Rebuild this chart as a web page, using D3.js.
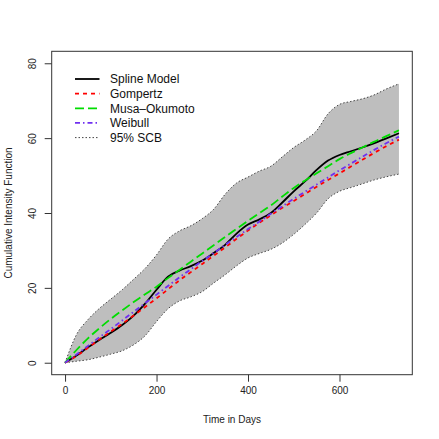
<!DOCTYPE html>
<html>
<head>
<meta charset="utf-8">
<script src="https://cdn.jsdelivr.net/npm/d3@7"></script>
<style>
body { margin:0; background:#fff; }
svg { display:block; font-family:"Liberation Sans", Arial, sans-serif; }
</style>
</head>
<body>
<svg id="chart"></svg>
<script>
// days at which the curves were read
var days = [0,25,50,75,100,125,150,175,200,225,250,275,300,325,350,375,400,425,450,475,500,525,550,575,600,625,650,675,700,730];

var upperSCB = [0,7.5,11.5,14.5,17,19.5,22.3,25.2,28.8,33,35.2,36.6,38.5,41,45,48,49.6,51.2,52.5,55,57.5,59.5,62,66.5,69,69.8,70.5,71.5,73,74.5];
var lowerSCB = [0,0.4,0.8,1.5,2.3,3.2,4.8,7.2,11,14.4,16.5,17.6,19,21.3,23.5,25.9,28,29.2,30.3,32,34.3,37,40,43.8,45.8,46.8,47.8,48.8,49.6,50.4];

var spline   = [0,1.9,4.1,6.1,8,10.1,12.6,15.8,19.5,23,24.6,25.8,27.3,29.3,31.5,34.5,36.9,38.3,40,42.8,45.8,48.5,51.5,54,55.5,56.5,57.5,58.6,59.8,61.3];
var gompertz = [0,1.8,4,6.2,8.3,10.4,12.6,14.9,17.2,19.6,22,24.2,26.4,28.6,30.8,33.1,35.3,37.4,39.4,41.4,43.2,45.1,47,48.8,50.6,52.4,54.2,56,57.7,59.6];
var musa     = [0,3.4,6.5,9.2,11.7,14,16.2,18.3,20.3,22.6,24.8,27,29.2,31.4,33.6,35.8,37.9,40,42,44.4,46.7,48.7,50.6,52.5,54.4,56,57.5,59,60.4,62.1];
var weibull  = [0,2.2,4.5,6.8,9,11.3,13.6,15.9,18.2,20.5,22.8,25,27.2,29.3,31.5,33.6,35.7,37.7,39.8,41.8,43.8,45.7,47.6,49.5,51.4,53.2,55,56.8,58.5,60.4];

var xTicks = [0,200,400,600];
var yTicks = [0,20,40,60,80];

var legendNames = ["Spline Model","Gompertz","Musa\u2013Okumoto","Weibull","95% SCB"];
var legendColors = ["#000000","#ff0000","#00dd00","#7030f0","#444444"];
var legendDash = [null,"4,4","9,4","5,3,1.5,3","1.5,2"];
var legendWidth = [1.8,1.8,1.8,1.8,1];

var drawChart = function()
{
    var screen = {width:439, height:439}
    var box = {left:51.7, right:412.3, top:51.3, bottom:374.7}

    var svg = d3.select("#chart")
        .attr("width", screen.width)
        .attr("height", screen.height)

    var xScale = d3.scaleLinear()
        .domain([-29.2, 759.2])
        .range([box.left, box.right])

    var yScale = d3.scaleLinear()
        .domain([-3.2, 83.2])
        .range([box.bottom, box.top])

    var pts = function(vals)
    {
        return days.map(function(d, i) { return [d, vals[i]]; })
    }

    var line = d3.line()
        .x(function(d) { return xScale(d[0]); })
        .y(function(d) { return yScale(d[1]); })
        .curve(d3.curveMonotoneX)

    var area = d3.area()
        .x(function(d, i) { return xScale(days[i]); })
        .y0(function(d, i) { return yScale(lowerSCB[i]); })
        .y1(function(d, i) { return yScale(upperSCB[i]); })
        .curve(d3.curveMonotoneX)

    // confidence band
    svg.append("path")
        .datum(days)
        .attr("d", area)
        .attr("fill", "#bebebe")

    var series = [
        {vals:upperSCB, k:4},
        {vals:lowerSCB, k:4},
        {vals:spline, k:0},
        {vals:gompertz, k:1},
        {vals:musa, k:2},
        {vals:weibull, k:3}
    ]

    svg.append("g")
        .selectAll("path")
        .data(series)
        .enter()
        .append("path")
        .attr("d", function(s) { return line(pts(s.vals)); })
        .attr("fill", "none")
        .attr("stroke", function(s) { return legendColors[s.k]; })
        .attr("stroke-width", function(s) { return legendWidth[s.k]; })
        .attr("stroke-dasharray", function(s) { return legendDash[s.k]; })

    // box
    svg.append("rect")
        .attr("x", box.left)
        .attr("y", box.top)
        .attr("width", box.right - box.left)
        .attr("height", box.bottom - box.top)
        .attr("fill", "none")
        .attr("stroke", "#333")
        .attr("stroke-width", 1)

    // axes
    var xAxis = d3.axisBottom(xScale)
        .tickValues(xTicks)
        .tickSize(7)
        .tickPadding(5)
    var gx = svg.append("g")
        .attr("transform", "translate(0," + box.bottom + ")")
        .call(xAxis)
    gx.select(".domain").remove()
    gx.selectAll("line").attr("stroke", "#333")
    gx.selectAll("text").attr("font-size", "10px").attr("fill", "#222")
        .attr("font-family", "Liberation Sans, Arial, sans-serif")

    var yAxis = d3.axisLeft(yScale)
        .tickValues(yTicks)
        .tickSize(7)
    var gy = svg.append("g")
        .attr("transform", "translate(" + box.left + ",0)")
        .call(yAxis)
    gy.select(".domain").remove()
    gy.selectAll("line").attr("stroke", "#333")
    gy.selectAll("text")
        .attr("font-size", "10px")
        .attr("fill", "#222")
        .attr("font-family", "Liberation Sans, Arial, sans-serif")
        .attr("text-anchor", "middle")
        .attr("x", null)
        .attr("dy", null)
        .attr("transform", "translate(-15.7,0) rotate(-90)")

    svg.append("text")
        .text("Time in Days")
        .attr("x", (box.left + box.right) / 2)
        .attr("y", 423)
        .attr("text-anchor", "middle")
        .attr("font-size", "10px")
        .attr("fill", "#222")

    svg.append("text")
        .text("Cumulative Intensity Function")
        .attr("transform", "translate(12," + (box.top + box.bottom) / 2 + ") rotate(-90)")
        .attr("text-anchor", "middle")
        .attr("font-size", "10px")
        .attr("fill", "#222")

    // legend
    var legend = svg.append("g")
        .selectAll("g")
        .data(legendNames)
        .enter()
        .append("g")
        .attr("transform", function(d, i) { return "translate(0," + (79 + i * 14.65) + ")"; })

    legend.append("line")
        .attr("x1", 75)
        .attr("x2", 99.5)
        .attr("stroke", function(d, i) { return legendColors[i]; })
        .attr("stroke-width", function(d, i) { return legendWidth[i]; })
        .attr("stroke-dasharray", function(d, i) { return legendDash[i]; })

    legend.append("text")
        .text(function(d) { return d; })
        .attr("x", 110)
        .attr("y", 4.3)
        .attr("font-size", "12px")
        .attr("fill", "#111")
}

drawChart();
</script>
</body>
</html>
